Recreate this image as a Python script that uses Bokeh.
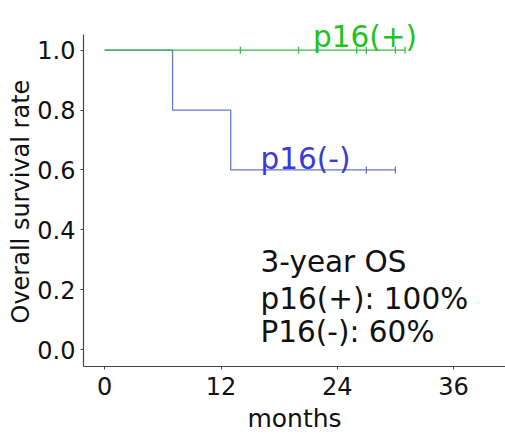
import numpy as np
from bokeh.plotting import figure
from bokeh.models import FixedTicker, Label, Range1d, CustomJSTickFormatter, Title
from bokeh.embed import file_html
from bokeh.resources import INLINE

# Kaplan-Meier data (months, survival)
pos_times = [0, 31]
pos_surv = [1.0, 1.0]
pos_censor_times = [14, 20, 26, 27, 30, 31]
pos_censor_surv = [1.0, 1.0, 1.0, 1.0, 1.0, 1.0]

neg_times = [0, 7, 13, 30]
neg_surv = [1.0, 0.8, 0.6, 0.6]
neg_censor_times = [27, 30]
neg_censor_surv = [0.6, 0.6]

x_ticks = [0, 12, 24, 36]
y_ticks = [0.0, 0.2, 0.4, 0.6, 0.8, 1.0]

annotation_lines = ["3-year OS", "p16(+): 100%", "P16(-): 60%"]

GREEN_LINE = "#3db848"
GREEN_TEXT = "#1fc21f"
BLUE_LINE = "#6878c6"
BLUE_TEXT = "#3a3ad6"
FONT = "DejaVu Sans"

Y0, Y1 = -0.0565, 1.053

p = figure(width=505, height=436, output_backend="svg", toolbar_location=None,
           x_range=Range1d(-2.19, 41.36), y_range=Range1d(Y0, 1.166),
           min_border_left=83, min_border_top=0, min_border_bottom=68,
           min_border_right=0)
p.outline_line_color = None
p.xgrid.visible = False
p.ygrid.visible = False
p.background_fill_color = "white"
p.border_fill_color = "white"

p.step(neg_times, neg_surv, mode="after", line_color=BLUE_LINE, line_width=1.3)
p.scatter(neg_censor_times, neg_censor_surv, marker="dash", angle=np.pi / 2,
          size=7, line_color=BLUE_LINE, line_width=1.3)
p.step(pos_times, pos_surv, mode="after", line_color=GREEN_LINE, line_width=1.3)
p.scatter(pos_censor_times, pos_censor_surv, marker="dash", angle=np.pi / 2,
          size=7, line_color=GREEN_LINE, line_width=1.3)

for ax in (p.xaxis, p.yaxis):
    ax.axis_line_color = "#444444"
    ax.axis_line_width = 1.2
    ax.major_tick_line_color = "#444444"
    ax.major_tick_out = 3
    ax.major_tick_in = 0
    ax.minor_tick_out = 0
    ax.minor_tick_in = 0
    ax.major_label_text_font = FONT
    ax.major_label_text_font_size = "24px"
    ax.major_label_text_color = "#111111"

p.yaxis.bounds = (Y0, Y1)
p.xaxis.ticker = FixedTicker(ticks=x_ticks)
p.yaxis.ticker = FixedTicker(ticks=y_ticks)
p.yaxis.formatter = CustomJSTickFormatter(code="return tick.toFixed(1);")
p.xaxis.major_label_standoff = 7
p.yaxis.major_label_standoff = 5

p.add_layout(Title(text="months", align="center", text_font=FONT,
                   text_font_size="25px", text_font_style="normal",
                   text_color="#111111", standoff=8, vertical_align="bottom"),
             "below")
p.add_layout(Title(text="Overall survival rate", align="left", text_font=FONT,
                   text_font_size="24px", text_font_style="normal",
                   text_color="#111111", standoff=0, offset=43), "left")

p.add_layout(Label(x=21.5, y=1.043, text="p16(+)", text_font=FONT,
                   text_font_size="29.5px", text_color=GREEN_TEXT,
                   text_baseline="alphabetic"))
p.add_layout(Label(x=16.08, y=0.635, text="p16(-)", text_font=FONT,
                   text_font_size="29.5px", text_color=BLUE_TEXT,
                   text_baseline="alphabetic"))
for txt, yy in zip(annotation_lines, [0.292, 0.169, 0.058]):
    p.add_layout(Label(x=16.08, y=yy, text=txt, text_font=FONT,
                       text_font_size="29.5px", text_color="#111111",
                       text_baseline="alphabetic"))

open("out.html", "w").write(file_html(p, INLINE))
